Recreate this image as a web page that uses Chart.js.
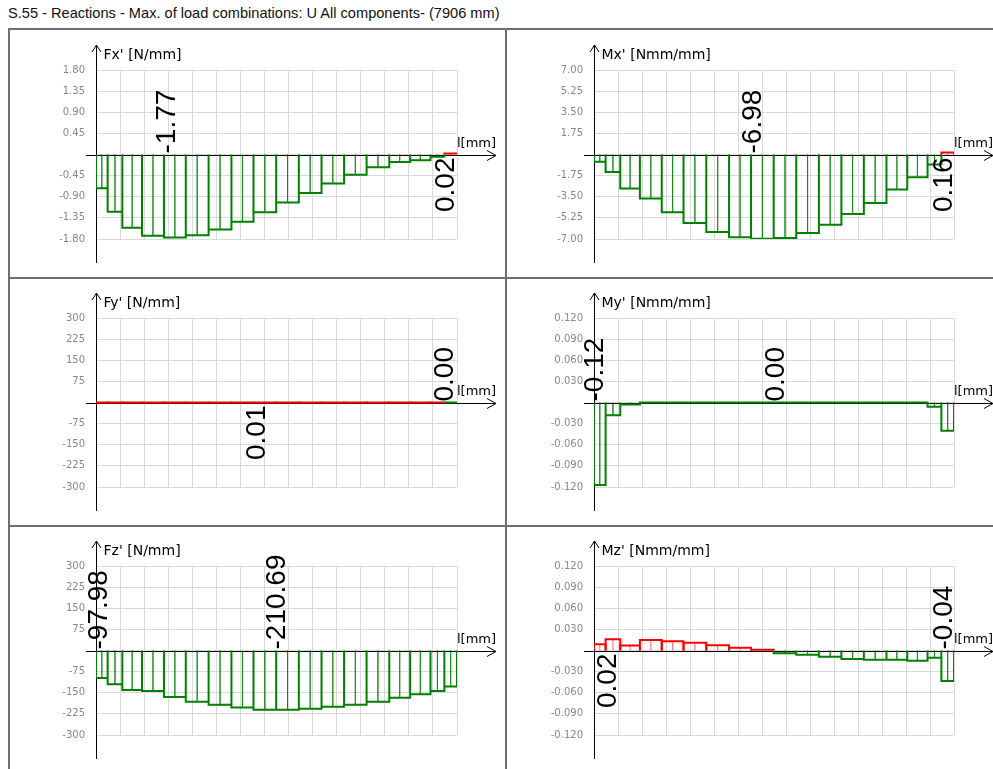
<!DOCTYPE html>
<html>
<head>
<meta charset="utf-8">
<script src="https://cdn.jsdelivr.net/npm/chart.js@4.4.0/dist/chart.umd.min.js"></script>
<style>
body { margin: 0; background: #fff; width: 993px; height: 769px; position: relative; overflow: hidden; }
#title { position: absolute; left: 8px; top: 5px; font: 14.6px "Liberation Sans", Arial, sans-serif; color: #111; white-space: nowrap; }
.rule { position: absolute; background: #6f6f6f; }
canvas { position: absolute; }
</style>
</head>
<body>
<div id="title">S.55 - Reactions - Max. of load combinations: U All components- (7906 mm)</div>
<div class="rule" style="left:9px;top:28px;width:984px;height:2px"></div>
<div class="rule" style="left:9px;top:277px;width:984px;height:2px"></div>
<div class="rule" style="left:9px;top:525px;width:984px;height:2px"></div>
<div class="rule" style="left:8px;top:28px;width:2px;height:741px"></div>
<div class="rule" style="left:505px;top:28px;width:2px;height:741px"></div>

<canvas id="cFx" width="505" height="248" style="left:0;top:29px"></canvas>
<canvas id="cMx" width="487" height="248" style="left:506px;top:29px"></canvas>
<canvas id="cFy" width="505" height="248" style="left:0;top:277px"></canvas>
<canvas id="cMy" width="487" height="248" style="left:506px;top:277px"></canvas>
<canvas id="cFz" width="505" height="244" style="left:0;top:525px"></canvas>
<canvas id="cMz" width="487" height="244" style="left:506px;top:525px"></canvas>

<script>
// longitud del borde (mm) y nodos de la malla
const spanLength = 7906;
const xDivisions = 15;
const nodes = [0, 255, 577, 1008, 1488, 1966, 2466, 2966, 3449, 3946, 4442, 4939, 5433, 5926, 6423, 6880, 7325, 7629, 7906];

// valores por elemento
const fxValues = [-0.72, -1.22, -1.56, -1.73, -1.77, -1.72, -1.60, -1.43, -1.23, -1.02, -0.82, -0.62, -0.43, -0.27, -0.16, -0.12, -0.05, 0.02];
const mxValues = [-0.61, -1.44, -2.82, -3.65, -4.79, -5.67, -6.42, -6.86, -6.98, -6.92, -6.50, -5.81, -4.93, -4.01, -2.90, -1.88, -0.83, 0.16];
const fyValues = [0.004, 0.005, 0.006, 0.007, 0.008, 0.009, 0.01, 0.01, 0.01, 0.01, 0.01, 0.009, 0.008, 0.007, 0.006, 0.005, 0.003, -0.001];
const myValues = [-0.117, -0.018, -0.003, 0, 0, 0, 0, 0, 0, 0, 0, 0, 0, 0, 0, 0, -0.006, -0.040];
const fzValues = [-97.98, -120, -140, -144, -165, -182, -193, -202, -210.69, -210.5, -207, -200, -193, -182, -168, -155, -144, -128];
const mzValues = [0.009, 0.016, 0.007, 0.015, 0.013, 0.011, 0.0075, 0.004, 0.001, -0.004, -0.006, -0.009, -0.012, -0.013, -0.013, -0.0146, -0.0104, -0.0433];

// etiquetas del eje y
const fxTicks = [1.80, 1.35, 0.90, 0.45, 0, -0.45, -0.90, -1.35, -1.80];
const mxTicks = [7.00, 5.25, 3.50, 1.75, 0, -1.75, -3.50, -5.25, -7.00];
const fyTicks = [300, 225, 150, 75, 0, -75, -150, -225, -300];
const myTicks = [0.120, 0.090, 0.060, 0.030, 0, -0.030, -0.060, -0.090, -0.120];
const fzTicks = [300, 225, 150, 75, 0, -75, -150, -225, -300];
const mzTicks = [0.120, 0.090, 0.060, 0.030, 0, -0.030, -0.060, -0.090, -0.120];

// valores extremos rotulados (x en mm)
const fxLabels = [{ x: 1533, text: '-1.77', up: true }, { x: 7643, text: '0.02', up: false }];
const mxLabels = [{ x: 3470, text: '-6.98', up: true }, { x: 7664, text: '0.16', up: false }];
const fyLabels = [{ x: 3504, text: '0.01', up: false }, { x: 7621, text: '0.00', up: true }];
const myLabels = [{ x: 11, text: '-0.12', up: true }, { x: 3975, text: '0.00', up: true }];
const fzLabels = [{ x: 44, text: '-97.98', up: true }, { x: 3953, text: '-210.69', up: true }];
const mzLabels = [{ x: 296, text: '0.02', up: false }, { x: 7664, text: '-0.04', up: true }];

const verde = '#008000';
const verdeClaro = 'rgba(0,128,0,0.6)';
const rojo = '#ff0000';
const rojoClaro = 'rgba(255,0,0,0.6)';

function contorno(vals) {
    const pts = [];
    vals.forEach((v, i) => {
        pts.push({ x: nodes[i], y: 0 }, { x: nodes[i], y: v }, { x: nodes[i + 1], y: v }, { x: nodes[i + 1], y: 0 });
    });
    return pts;
}

function lineasMedias(vals) {
    const pts = [];
    vals.forEach((v, i) => {
        const m = (nodes[i] + nodes[i + 1]) / 2;
        pts.push({ x: m, y: 0 }, { x: m, y: v }, { x: m, y: null });
    });
    return pts;
}

const ejes = {
    id: 'ejes',
    beforeDatasetsDraw(chart, args, opts) {
        const { ctx, chartArea: a, scales: { x, y } } = chart;
        const x0 = Math.round(x.getPixelForValue(0)) + 0.5;
        const y0 = Math.round(y.getPixelForValue(0)) + 0.5;
        ctx.save();
        ctx.strokeStyle = '#000';
        ctx.lineWidth = 1;
        ctx.beginPath();
        ctx.moveTo(a.left - 10, y0); ctx.lineTo(a.right + 38, y0);
        ctx.moveTo(a.right + 30, y0 - 5); ctx.lineTo(a.right + 39, y0); ctx.lineTo(a.right + 30, y0 + 5);
        ctx.moveTo(x0, a.bottom + 24); ctx.lineTo(x0, a.top - 25);
        ctx.moveTo(x0 - 4.5, a.top - 18); ctx.lineTo(x0, a.top - 25); ctx.lineTo(x0 + 4.5, a.top - 18);
        ctx.stroke();
        ctx.fillStyle = '#000';
        ctx.textBaseline = 'alphabetic';
        ctx.textAlign = 'left';
        ctx.font = '14px "DejaVu Sans"';
        ctx.fillText(opts.titulo, x0 + 7, a.top - 11);
        ctx.font = '13px "DejaVu Sans"';
        ctx.fillText('l[mm]', a.right, y0 - 9);
        ctx.restore();
    },
    afterDraw(chart, args, opts) {
        const { ctx, scales: { x, y } } = chart;
        const y0 = y.getPixelForValue(0);
        ctx.save();
        ctx.fillStyle = '#000';
        ctx.font = '28px "Liberation Sans"';
        ctx.textBaseline = 'middle';
        opts.rotulos.forEach(r => {
            ctx.save();
            ctx.translate(x.getPixelForValue(r.x), y0);
            ctx.rotate(-Math.PI / 2);
            ctx.textAlign = r.up ? 'left' : 'right';
            ctx.fillText(r.text, r.up ? 1 : -3, 1);
            ctx.restore();
        });
        ctx.restore();
    }
};

function panel(id, vals, ticks, dec, titulo, rotulos) {
    const canvas = document.getElementById(id);
    const derecha = canvas.width < 500;
    const areaLeft = derecha ? 88 : 96;
    const padRight = derecha ? 39 : 48;
    const padBottom = canvas.height - 41 - 169;

    new Chart(canvas.getContext('2d'), {
        type: 'line',
        data: {
            datasets: [{
                data: contorno(vals),
                borderWidth: 2,
                pointRadius: 0,
                fill: false,
                segment: {
                    borderColor: c => (c.p0.parsed.y + c.p1.parsed.y) > 0 ? rojo : verde
                }
            }, {
                data: lineasMedias(vals),
                borderWidth: 1,
                pointRadius: 0,
                fill: false,
                spanGaps: false,
                segment: {
                    borderColor: c => (c.p0.parsed.y + c.p1.parsed.y) > 0 ? rojoClaro : verdeClaro
                }
            }]
        },
        options: {
            responsive: false,
            animation: false,
            events: [],
            layout: { padding: { left: 10, top: 41, right: padRight, bottom: padBottom } },
            plugins: {
                legend: { display: false },
                tooltip: { enabled: false },
                ejes: { titulo: titulo, rotulos: rotulos }
            },
            scales: {
                x: {
                    type: 'linear',
                    min: 0,
                    max: spanLength,
                    afterBuildTicks: s => {
                        s.ticks = Array.from({ length: xDivisions + 1 }, (_, i) => ({ value: spanLength * i / xDivisions }));
                    },
                    afterFit: s => { s.height = 0; },
                    ticks: { display: false },
                    grid: { color: '#d9d9d9', drawTicks: false },
                    border: { display: false }
                },
                y: {
                    type: 'linear',
                    min: ticks[ticks.length - 1],
                    max: ticks[0],
                    afterBuildTicks: s => { s.ticks = ticks.map(v => ({ value: v })); },
                    afterFit: s => { s.width = areaLeft - 10; },
                    ticks: {
                        padding: 11,
                        color: '#888888',
                        font: { family: 'DejaVu Sans', size: 10 },
                        callback: v => v === 0 ? '' : v.toFixed(dec)
                    },
                    grid: { color: '#d9d9d9', drawTicks: false },
                    border: { display: false }
                }
            }
        },
        plugins: [ejes]
    });
}

panel('cFx', fxValues, fxTicks, 2, "Fx' [N/mm]", fxLabels);
panel('cMx', mxValues, mxTicks, 2, "Mx' [Nmm/mm]", mxLabels);
panel('cFy', fyValues, fyTicks, 0, "Fy' [N/mm]", fyLabels);
panel('cMy', myValues, myTicks, 3, "My' [Nmm/mm]", myLabels);
panel('cFz', fzValues, fzTicks, 0, "Fz' [N/mm]", fzLabels);
panel('cMz', mzValues, mzTicks, 3, "Mz' [Nmm/mm]", mzLabels);
</script>
</body>
</html>
